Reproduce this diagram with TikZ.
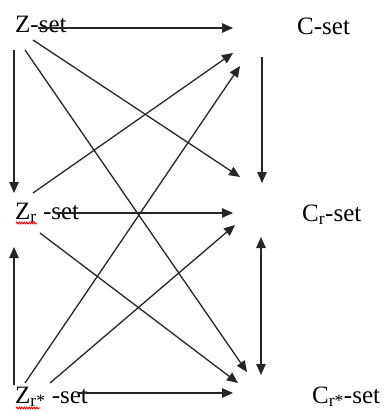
\documentclass[tikz,border=0pt]{standalone}
\usepackage{fontspec}
\setmainfont{Liberation Serif}
\usetikzlibrary{arrows.meta,decorations.pathmorphing}
\begin{document}
\begin{tikzpicture}[x=1pt,y=-1pt,
  lbl/.style={anchor=base west,inner sep=0pt,font=\fontsize{25}{28}\selectfont},
  con/.style={line width=1.3pt,draw=black!85,-{Triangle[length=11pt,width=9.5pt]}},
  bicon/.style={con,{Triangle[length=11pt,width=9.5pt]}-{Triangle[length=11pt,width=9.5pt]}},
  squig/.style={draw=red,line width=0.9pt,decorate,decoration={snake,amplitude=0.9pt,segment length=2.5pt}}]
\useasboundingbox (0,0) rectangle (390,412);
% labels
\node[lbl] (Z) at (15,33) {Z-set};
\node[lbl] (C) at (297,35) {C-set};
\node[lbl] (Zr) at (15,219) {Z\textsubscript{r} -set};
\node[lbl] (Cr) at (302,221) {C\textsubscript{r}-set};
\node[lbl] (Zs) at (15,403) {Z\textsubscript{r*} -set};
\node[lbl] (Cs) at (312,403) {C\textsubscript{r*}-set};
% spell-check marks
\draw[squig] (16,223) -- (37,223);
\draw[squig] (16,408) -- (40,408);
% endpoints
\coordinate (z1) at (38,28);   \coordinate (c1) at (233,28);
\coordinate (z2) at (33,40);   \coordinate (cr2) at (240,177);
\coordinate (z3) at (25,50);   \coordinate (cs3) at (247,372);
\coordinate (z4) at (14,50);   \coordinate (zr4) at (14,193);
\coordinate (zr5) at (33,193); \coordinate (c5) at (233,53);
\coordinate (zr6) at (55,213); \coordinate (cr6) at (233,213);
\coordinate (zr7) at (40,233); \coordinate (cs7) at (238,383);
\coordinate (zs8) at (14,385); \coordinate (zr8) at (14,247);
\coordinate (zs9) at (25,383); \coordinate (c9) at (240,66);
\coordinate (zs10) at (50,383);\coordinate (cr10) at (235,225);
\coordinate (zs11) at (78,393);\coordinate (cs11) at (233,393);
\coordinate (c12) at (262,57); \coordinate (cr12) at (262,183);
\coordinate (cr13) at (261,237);\coordinate (cs13) at (261,375);
% connectors
\draw[con] (z1) -- (c1);
\draw[con] (z2) -- (cr2);
\draw[con] (z3) -- (cs3);
\draw[con] (z4) -- (zr4);
\draw[con] (zr5) -- (c5);
\draw[con] (zr6) -- (cr6);
\draw[con] (zr7) -- (cs7);
\draw[con] (zs8) -- (zr8);
\draw[con] (zs9) -- (c9);
\draw[con] (zs10) -- (cr10);
\draw[con] (zs11) -- (cs11);
\draw[con] (c12) -- (cr12);
\draw[bicon] (cr13) -- (cs13);
\end{tikzpicture}
\end{document}
